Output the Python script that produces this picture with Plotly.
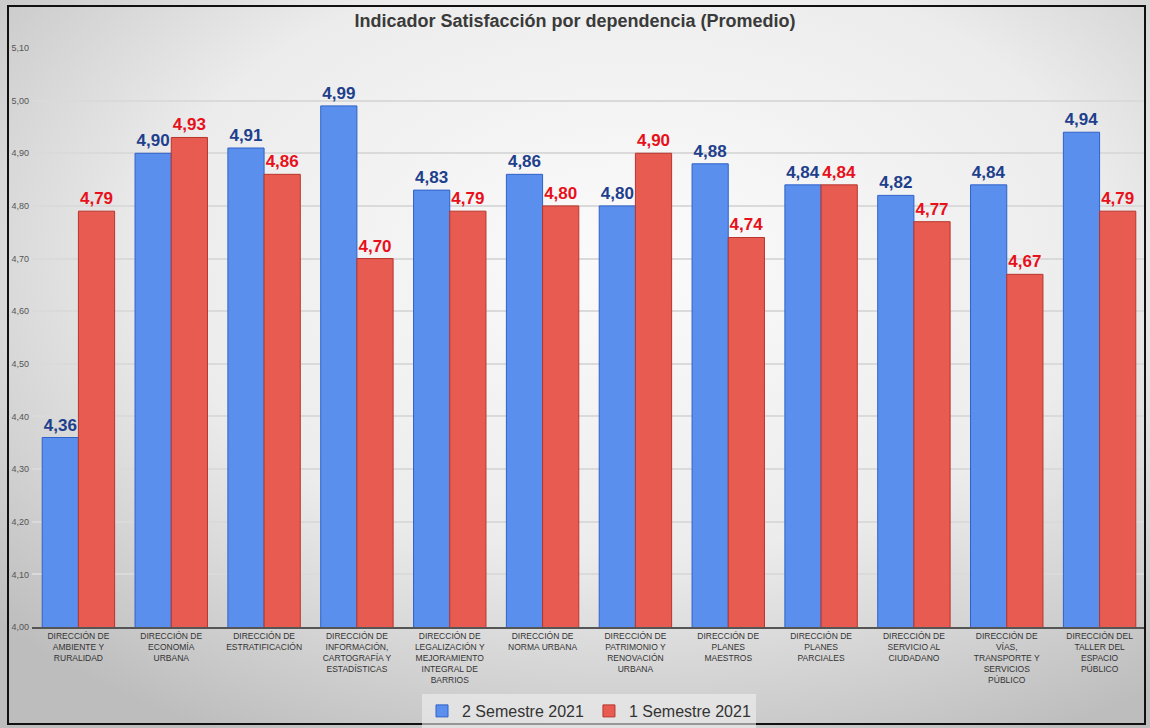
import plotly.graph_objects as go
import base64

categories = [
    "DIRECCIÓN DE<br>AMBIENTE Y<br>RURALIDAD",
    "DIRECCIÓN DE<br>ECONOMÍA<br>URBANA",
    "DIRECCIÓN DE<br>ESTRATIFICACIÓN",
    "DIRECCIÓN DE<br>INFORMACIÓN,<br>CARTOGRAFÍA Y<br>ESTADÍSTICAS",
    "DIRECCIÓN DE<br>LEGALIZACIÓN Y<br>MEJORAMIENTO<br>INTEGRAL DE<br>BARRIOS",
    "DIRECCIÓN DE<br>NORMA URBANA",
    "DIRECCIÓN DE<br>PATRIMONIO Y<br>RENOVACIÓN<br>URBANA",
    "DIRECCIÓN DE<br>PLANES<br>MAESTROS",
    "DIRECCIÓN DE<br>PLANES<br>PARCIALES",
    "DIRECCIÓN DE<br>SERVICIO AL<br>CIUDADANO",
    "DIRECCIÓN DE<br>VÍAS,<br>TRANSPORTE Y<br>SERVICIOS<br>PÚBLICO",
    "DIRECCIÓN DEL<br>TALLER DEL<br>ESPACIO<br>PÚBLICO",
]
sem2_2021 = [4.36, 4.90, 4.91, 4.99, 4.83, 4.86, 4.80, 4.88, 4.84, 4.82, 4.84, 4.94]
sem1_2021 = [4.79, 4.93, 4.86, 4.70, 4.79, 4.80, 4.90, 4.74, 4.84, 4.77, 4.67, 4.79]
tick_vals = [4.00, 4.10, 4.20, 4.30, 4.40, 4.50, 4.60, 4.70, 4.80, 4.90, 5.00, 5.10]

FONT = "Liberation Sans Narrow, Arial Narrow, Liberation Sans, Arial, sans-serif"

W, H = 1150, 728
ML, MR, MT, MB = 32, 4, 48, 101
PW = W - ML - MR
PH = H - MT - MB

def px_x(px):
    return (px - ML) / PW

def px_y(py):
    return (H - MB - py) / PH

svg = f'''<svg xmlns="http://www.w3.org/2000/svg" width="{W}" height="{H}">
<defs><radialGradient id="g" cx="0.55" cy="0.35" r="0.75">
<stop offset="0" stop-color="#fbfbfb"/><stop offset="0.55" stop-color="#ececec"/>
<stop offset="1" stop-color="#bdbdbd"/></radialGradient></defs>
<rect width="{W}" height="{H}" fill="url(#g)"/></svg>'''
bg_src = "data:image/svg+xml;base64," + base64.b64encode(svg.encode()).decode()

fig = go.Figure()
fig.add_trace(go.Bar(
    x=categories, y=sem2_2021, name="2 Semestre 2021",
    marker=dict(color="#5B8FEE", line=dict(color="#2F62C8", width=1)),
    texttemplate="%{y:.2f}", textposition="outside",
    textfont=dict(family=FONT, size=17, color="#1E3F8C", weight="bold"),
    cliponaxis=False,
))
fig.add_trace(go.Bar(
    x=categories, y=sem1_2021, name="1 Semestre 2021",
    marker=dict(color="#E85B50", line=dict(color="#B8352C", width=1)),
    texttemplate="%{y:.2f}", textposition="outside",
    textfont=dict(family=FONT, size=17, color="#E8101A", weight="bold"),
    cliponaxis=False,
))

fig.update_layout(
    width=W, height=H,
    margin=dict(l=ML, r=MR, t=MT, b=MB, autoexpand=False),
    separators=",.",
    paper_bgcolor="#e6e6e6",
    plot_bgcolor="rgba(0,0,0,0)",
    barmode="group", bargap=0.22, bargroupgap=0,
    title=dict(text="Indicador Satisfacción por dependencia (Promedio)",
               x=0.5, xanchor="center", y=1 - 21 / H, yanchor="middle",
               font=dict(family=FONT, size=18, color="#3a3a3a", weight="bold")),
    showlegend=True,
    legend=dict(orientation="h", x=0.5, xanchor="center", y=px_y(711), yanchor="middle",
                font=dict(family=FONT, size=16, color="#333"),
                bgcolor="rgba(240,240,240,0.6)", itemwidth=30, traceorder="normal"),
    font=dict(family=FONT),
    images=[dict(source=bg_src, xref="paper", yref="paper",
                 x=px_x(0), y=px_y(0), sizex=W / PW, sizey=H / PH,
                 xanchor="left", yanchor="top", sizing="stretch", layer="below")],
    shapes=[dict(type="rect", xref="paper", yref="paper",
                 x0=px_x(8), x1=px_x(1145), y0=px_y(724), y1=px_y(6),
                 line=dict(color="#111", width=2), fillcolor="rgba(0,0,0,0)",
                 layer="above")],
)
fig.update_yaxes(range=[4.0, 5.10], tickvals=tick_vals, tickformat=".2f",
                 tickfont=dict(family=FONT, size=9, color="#555"),
                 showgrid=True, gridcolor="#dadada", gridwidth=1.5,
                 zeroline=False, ticks="", ticklabelstandoff=2, automargin=False)
fig.update_xaxes(tickfont=dict(family=FONT, size=8.5, color="#333"), tickangle=0,
                 showline=True, linecolor="#555", linewidth=2, ticks="",
                 automargin=False)

fig.write_html(
    "out.html",
    config={"displayModeBar": False},
    post_script="document.body.style.margin='0';document.body.style.overflow='hidden';",
)
